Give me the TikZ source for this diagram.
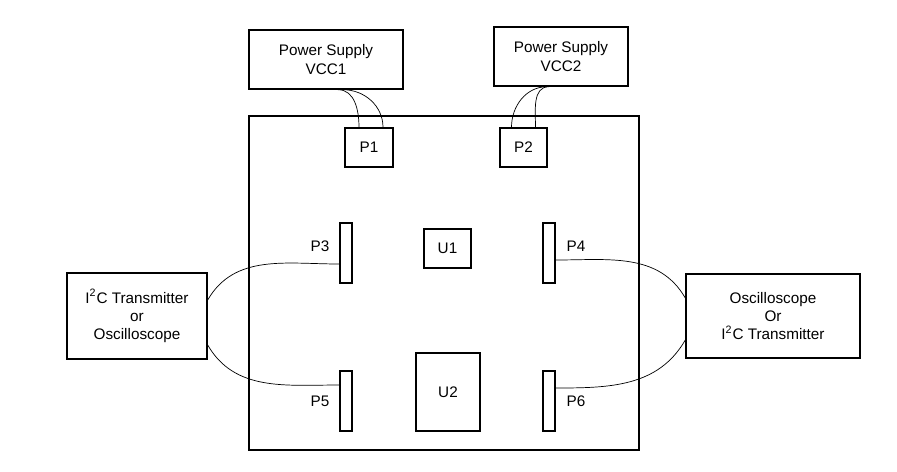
\documentclass[tikz,border=0pt]{standalone}
\usepackage{fontspec}
\setmainfont{Liberation Sans}
\usetikzlibrary{positioning}

\begin{document}
\begin{tikzpicture}[x=0.02cm,y=-0.02cm,semithick,
    box/.style={draw,thick,inner sep=0pt,align=center,font=\fontsize{8.7}{10.5}\selectfont},
    pin/.style={draw,thick,inner sep=0pt,minimum width=12*0.02cm,minimum height=60*0.02cm},
    lbl/.style={font=\fontsize{8.7}{10.5}\selectfont}]
  \useasboundingbox (0,0) rectangle (897,471);

  \node[box,minimum width=154*0.02cm,minimum height=59*0.02cm] (ps1) at (326,59.5) {Power Supply\\VCC1};
  \node[box,minimum width=134*0.02cm,minimum height=59*0.02cm] (ps2) at (561,56.5) {Power Supply\\VCC2};
  \node[box,minimum width=390*0.02cm,minimum height=334*0.02cm] (board) at (444,283) {};

  \node[box,minimum width=48*0.02cm,minimum height=39*0.02cm] (p1) at (369,147.5) {P1};
  \node[box,minimum width=47*0.02cm,minimum height=39*0.02cm] (p2) at (523.5,147.5) {P2};
  \node[box,minimum width=47*0.02cm,minimum height=39*0.02cm] (u1) at (447.5,248.5) {U1};
  \node[box,minimum width=64*0.02cm,minimum height=78*0.02cm] (u2) at (448,392) {U2};

  \node[pin] (p3) at (346,253) {};
  \node[pin] (p5) at (346,401) {};
  \node[pin] (p4) at (549,253) {};
  \node[pin] (p6) at (549,401) {};
  \node[lbl] at (320,246) {P3};
  \node[lbl] at (320,401) {P5};
  \node[lbl] at (576,246) {P4};
  \node[lbl] at (576,401) {P6};

  \node[box,minimum width=140*0.02cm,minimum height=86*0.02cm] (left) at (137,316) {I\textsuperscript{2}C Transmitter\\or\\Oscilloscope};
  \node[box,minimum width=174*0.02cm,minimum height=84*0.02cm] (right) at (773,316) {Oscilloscope\\Or\\I\textsuperscript{2}C Transmitter};

  % power cables
  \draw[thin] ([xshift=12*0.02cm]ps1.south) to[out=0,in=90] ([xshift=-10*0.02cm]p1.north);
  \draw[thin] ([xshift=17*0.02cm]ps1.south) to[out=0,in=90] ([xshift=14*0.02cm]p1.north);
  \draw[thin] ([xshift=-14*0.02cm]ps2.south) to[out=180,in=90] ([xshift=-12*0.02cm]p2.north);
  \draw[thin] ([xshift=-12*0.02cm]ps2.south) to[out=180,in=90] ([xshift=12*0.02cm]p2.north);

  % signal cables
  \draw[thin] ([yshift=16*0.02cm]left.east) to[out=60,in=180] ([yshift=-11*0.02cm]p3.west);
  \draw[thin] ([yshift=-29*0.02cm]left.east) to[out=-60,in=180] ([yshift=16*0.02cm]p5.west);
  \draw[thin] ([yshift=-7*0.02cm]p4.east) to[out=0,in=120] ([yshift=18*0.02cm]right.west);
  \draw[thin] ([yshift=13*0.02cm]p6.east) to[out=0,in=-120] ([yshift=-24*0.02cm]right.west);
\end{tikzpicture}
\end{document}
